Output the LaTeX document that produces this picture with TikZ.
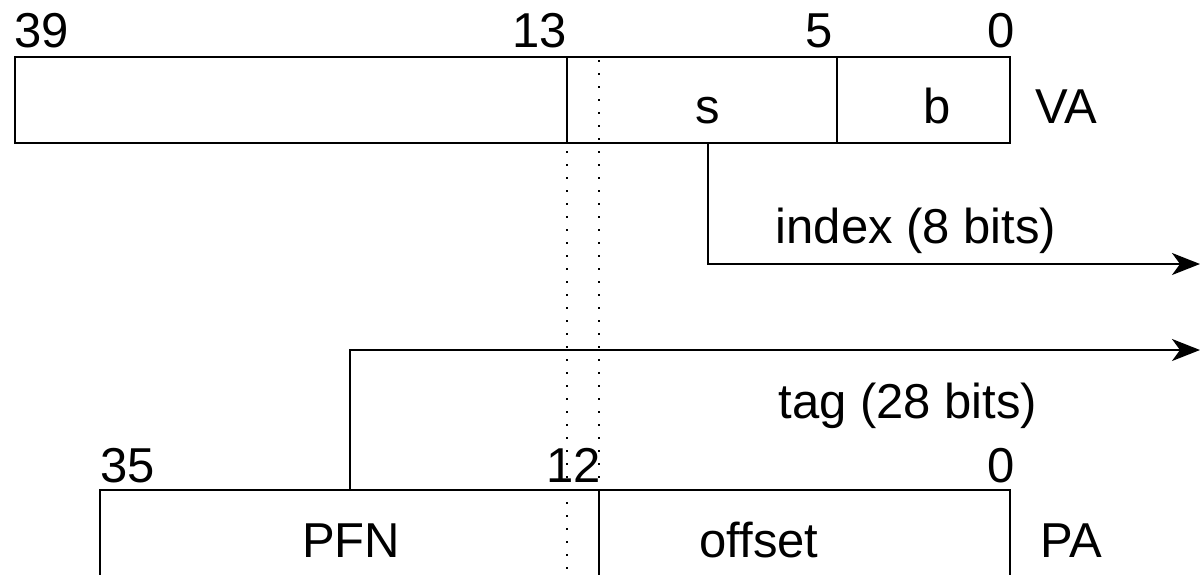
\documentclass[tikz,border=0pt]{standalone}
\usepackage{fontspec}
\setmainfont{Liberation Sans}
\usetikzlibrary{arrows.meta}
\begin{document}
\begin{tikzpicture}[x=0.5pt,y=-0.5pt,
  box/.style={line width=1pt},
  lbl/.style={font=\fontsize{24.5}{29}\selectfont, inner sep=0pt, anchor=base},
  guide/.style={line width=1pt, dash pattern=on 1pt off 5.5pt},
  conn/.style={line width=1pt, -{Stealth[length=14pt,width=11pt,inset=4pt]}}]
\useasboundingbox (0,0) rectangle (1200,574);

% virtual address register
\draw[box] (15,57) rectangle (1010,143);
\draw[box] (567,57) -- (567,143);
\draw[box] (837,57) -- (837,143);
\node[lbl] (va39) at (42,47) {39};
\node[lbl] (va13) at (540,47) {13};
\node[lbl] (va5)  at (819,47) {5};
\node[lbl] (va0)  at (1001,47) {0};
\node[lbl] (s)  at (708,123) {s};
\node[lbl] (b)  at (937,123) {b};
\node[lbl] (va) at (1066,123) {VA};

% physical address register
\draw[box] (100,600) -- (100,490) -- (1010,490) -- (1010,600);
\draw[box] (599,490) -- (599,600);
\node[lbl] (pa35) at (128,482) {35};
\node[lbl] (pa12) at (574,482) {12};
\node[lbl] (pa0)  at (1001,482) {0};
\node[lbl] (pfn)    at (351,557) {PFN};
\node[lbl] (offset) at (759,557) {offset};
\node[lbl] (pa)     at (1071,557) {PA};

% alignment guides
\draw[guide] (567,60) -- (567,574);
\draw[guide] (599,60) -- (599,490);

% index and tag connectors
\coordinate (sfoot) at (708,143);
\coordinate (idxend) at (1200,264);
\coordinate (pfnroot) at (350,490);
\coordinate (tagend) at (1200,350);
\draw[conn] (sfoot) |- (idxend);
\draw[conn] (pfnroot) |- (tagend);
\node[lbl] (idx) at (916,243) {index (8 bits)};
\node[lbl] (tag) at (908,418) {tag (28 bits)};
\end{tikzpicture}
\end{document}
